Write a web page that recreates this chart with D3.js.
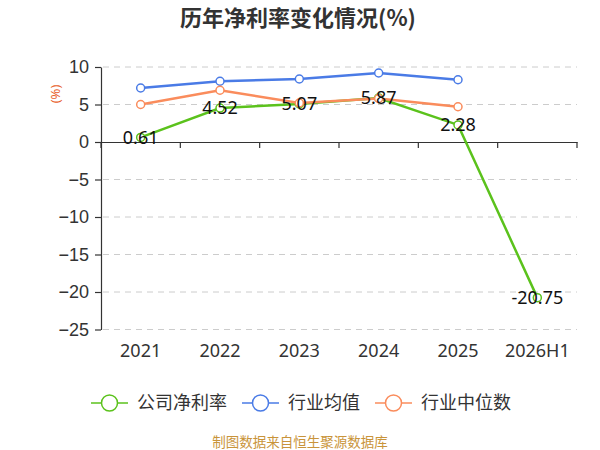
<!DOCTYPE html>
<html>
<head>
<meta charset="utf-8">
<script src="https://cdn.jsdelivr.net/npm/d3@7"></script>
<style>
  body { margin: 0; background: #fff; }
  svg { display: block; font-family: "Noto Sans", "Noto Sans CJK SC", sans-serif; }
</style>
</head>
<body>
<svg id="chart" width="600" height="450"></svg>
<script>
const years = ["2021", "2022", "2023", "2024", "2025", "2026H1"];
const companyRate = [0.61, 4.52, 5.07, 5.87, 2.28, -20.75];
const industryMean = [7.2, 8.1, 8.4, 9.2, 8.3, null];
const industryMedian = [5.0, 6.9, 5.2, 5.8, 4.7, null];
const yTicks = [10, 5, 0, -5, -10, -15, -20, -25];
const seriesNames = ["公司净利率", "行业均值", "行业中位数"];

const colors = ["#5bc21c", "#4a7be6", "#fa8c5c"];
const margin = {top: 67, right: 23, bottom: 120, left: 101};
const width = 600, height = 450;

const svg = d3.select("#chart");

// title
svg.append("text")
    .attr("x", 298)
    .attr("y", 26)
    .attr("text-anchor", "middle")
    .attr("font-family", "'Noto Sans CJK SC', sans-serif")
    .attr("font-weight", "bold")
    .attr("font-size", 22)
    .attr("fill", "#333")
    .text("历年净利率变化情况(%)");

const xScale = d3.scaleBand()
    .domain(years)
    .range([margin.left, width - margin.right]);

// y=-25 sits at ~330, y=10 at 67
const yScale = d3.scaleLinear()
    .domain([-25, 10])
    .range([329.5, margin.top]);

// grid
svg.append("g")
    .selectAll("line")
    .data(yTicks.filter(d => d !== 0))
    .enter()
    .append("line")
    .attr("x1", margin.left + 2)
    .attr("x2", width - margin.right)
    .attr("y1", d => yScale(d))
    .attr("y2", d => yScale(d))
    .attr("stroke", "#ccc")
    .attr("stroke-dasharray", "6,5");

// y axis
const yAxis = svg.append("g")
    .attr("transform", `translate(${margin.left},0)`)
    .call(d3.axisLeft(yScale).tickValues(yTicks).tickSize(6).tickSizeOuter(0));
yAxis.select(".domain").attr("stroke", "#333").attr("stroke-width", 1.2);
yAxis.selectAll(".tick line").attr("stroke", "#333").attr("stroke-width", 1.2);
yAxis.selectAll(".tick text")
    .attr("font-size", 18)
    .attr("fill", "#333")
    .attr("x", -12);

// x axis at y=0
const xAxis = svg.append("g")
    .attr("transform", `translate(0,${yScale(0)})`)
    .call(d3.axisBottom(xScale).tickSize(0).tickSizeOuter(0));
xAxis.select(".domain").attr("stroke", "#333").attr("stroke-width", 1.2);
xAxis.selectAll(".tick text").remove();

// boundary ticks on x axis
const bounds = years.map(d => xScale(d)).concat([width - margin.right]);
svg.append("g")
    .selectAll("line")
    .data(bounds)
    .enter()
    .append("line")
    .attr("x1", d => d)
    .attr("x2", d => d)
    .attr("y1", yScale(0))
    .attr("y2", yScale(0) + 6)
    .attr("stroke", "#333")
    .attr("stroke-width", 1.2);

// category labels at bottom
svg.append("g")
    .selectAll("text")
    .data(years)
    .enter()
    .append("text")
    .attr("x", d => xScale(d) + xScale.bandwidth() / 2)
    .attr("y", 357)
    .attr("text-anchor", "middle")
    .attr("font-size", 18)
    .attr("fill", "#333")
    .text(d => d);

// unit label
svg.append("text")
    .attr("transform", "translate(60,94) rotate(-90)")
    .attr("text-anchor", "middle")
    .attr("font-size", 13)
    .attr("fill", "#e8602c")
    .text("(%)");

const cx = (i) => xScale(years[i]) + xScale.bandwidth() / 2;
const series = [companyRate, industryMean, industryMedian];

series.forEach((vals, s) =>
{
    const pts = vals.map((v, i) => ({i, v})).filter(d => d.v !== null);
    const line = d3.line()
        .x(d => cx(d.i))
        .y(d => yScale(d.v));

    svg.append("path")
        .datum(pts)
        .attr("fill", "none")
        .attr("stroke", colors[s])
        .attr("stroke-width", 2.5)
        .attr("d", line);

    svg.append("g")
        .selectAll("circle")
        .data(pts)
        .enter()
        .append("circle")
        .attr("cx", d => cx(d.i))
        .attr("cy", d => yScale(d.v))
        .attr("r", 4)
        .attr("fill", "#fff")
        .attr("stroke", colors[s])
        .attr("stroke-width", 1.5);
});

// data labels for company
svg.append("g")
    .selectAll("text")
    .data(companyRate)
    .enter()
    .append("text")
    .attr("x", (d, i) => cx(i))
    .attr("y", d => yScale(d))
    .attr("dy", "0.35em")
    .attr("text-anchor", "middle")
    .attr("font-size", 18)
    .attr("fill", "#111")
    .text(d => d.toFixed(2));

// legend
const legendX = [91, 242, 375];
const legend = svg.append("g");
seriesNames.forEach((name, s) =>
{
    const g = legend.append("g").attr("transform", `translate(${legendX[s]},403)`);
    g.append("line")
        .attr("x1", 0).attr("x2", 37)
        .attr("stroke", colors[s])
        .attr("stroke-width", 1.5);
    g.append("circle")
        .attr("cx", 18.5).attr("r", 8)
        .attr("fill", "#fff")
        .attr("stroke", colors[s])
        .attr("stroke-width", 1.5);
    g.append("text")
        .attr("x", 46)
        .attr("dy", "0.35em")
        .attr("font-family", "'Noto Sans CJK SC', sans-serif")
        .attr("font-size", 18)
        .attr("fill", "#333")
        .text(name);
});

// source
svg.append("text")
    .attr("x", 300)
    .attr("y", 447)
    .attr("text-anchor", "middle")
    .attr("font-family", "'Noto Sans CJK SC', sans-serif")
    .attr("font-size", 13.5)
    .attr("fill", "#c9943a")
    .text("制图数据来自恒生聚源数据库");
</script>
</body>
</html>
